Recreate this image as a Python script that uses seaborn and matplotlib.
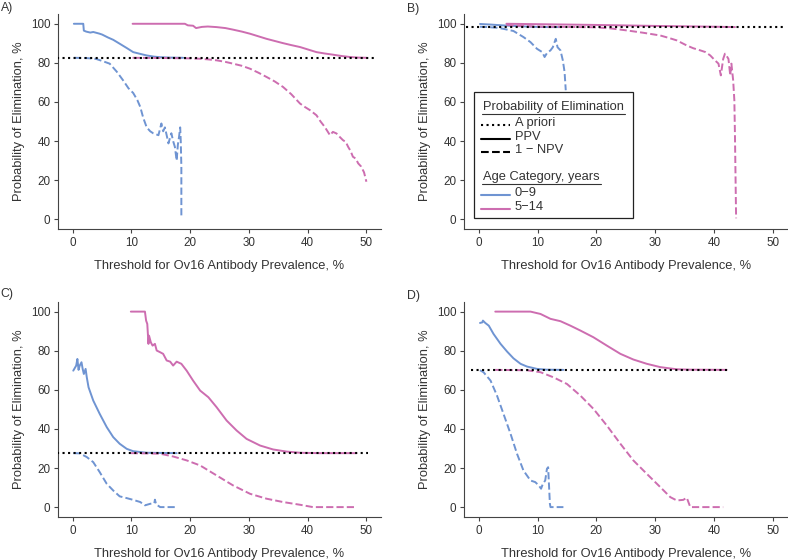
import pandas as pd
import numpy as np
import matplotlib.pyplot as plt
import seaborn as sns

# a priori probability of elimination per panel, and x span of the dotted line
apriori = [82.5, 98.2, 27.5, 70.0]
apriori_span = [(-2.7, 51.7), (-2.2, 52.3), (-2.7, 50.2), (-1.4, 42.2)]

# panel A
a_blue_ppv_x = [0.2, 1.8, 1.9, 2.3, 3.0, 3.5, 4.5, 5.0, 6.0, 6.9, 8.0, 9.2, 10.3, 11.5, 12.6, 13.8, 14.9, 16.5, 18.8]
a_blue_ppv_y = [100, 100, 96.5, 96.0, 95.5, 95.8, 95.0, 94.5, 93.0, 91.8, 89.8, 87.6, 85.5, 84.6, 83.8, 83.2, 82.9, 82.7, 82.6]
a_blue_npv_x = [0.2, 2.0, 3.0, 4.0, 5.0, 6.3, 7.5, 8.6, 9.5, 10.3, 11.0, 11.5, 12.0, 12.6, 13.2, 13.7, 14.6, 15.1, 15.4,
                15.7, 16.0, 16.3, 16.6, 16.8, 17.1, 17.4, 17.7, 17.9, 18.1, 18.3, 18.4, 18.5, 18.5]
a_blue_npv_y = [82.6, 82.5, 82.3, 82.0, 81.0, 79.6, 75.5, 71.0, 67.0, 64.6, 61.0, 57.5, 52.0, 47.0, 45.0, 44.0, 43.0, 49.0, 45.0,
                47.0, 43.0, 38.8, 42.0, 44.0, 40.0, 37.0, 30.0, 38.0, 42.0, 47.0, 40.0, 27.0, 2.0]
a_pink_ppv_x = [10.2, 19.1, 19.6, 20.5, 21.0, 22.0, 23.0, 24.5, 26.0, 27.3, 28.8, 30.2, 31.6, 33.0, 34.4, 35.8, 37.2, 38.7,
                40.1, 41.5, 42.9, 44.3, 45.8, 47.2, 48.6, 50.0]
a_pink_ppv_y = [100, 100, 99.2, 99.0, 97.8, 98.4, 98.6, 98.3, 97.8, 97.0, 96.0, 94.9, 93.6, 92.3, 91.2, 90.1, 89.1, 88.1,
                86.8, 85.5, 84.8, 84.2, 83.5, 83.0, 82.7, 82.6]
a_pink_npv_x = [10.2, 15.0, 20.0, 21.7, 23.0, 24.5, 26.0, 27.3, 28.8, 30.2, 31.6, 33.0, 34.4, 35.8, 37.2, 38.7, 39.5, 40.4,
                41.5, 42.2, 42.9, 43.8, 44.3, 44.9, 45.5, 46.0, 46.5, 46.9, 47.3, 47.7, 48.2, 48.6, 49.1, 49.6, 50.0]
a_pink_npv_y = [82.6, 82.5, 82.3, 82.1, 81.8, 81.3, 80.5, 79.6, 78.5, 77.0, 75.0, 72.8, 70.5, 67.7, 64.0, 59.2, 57.5, 55.8,
                53.2, 50.0, 47.3, 43.0, 44.7, 43.9, 42.0, 40.5, 39.5, 37.0, 35.0, 32.0, 31.0, 28.6, 27.0, 24.0, 19.2]

# panel B
b_blue_ppv_x = [0.2, 2, 4, 6, 8, 10, 12, 14.0]
b_blue_ppv_y = [99.9, 99.6, 99.2, 98.9, 98.6, 98.4, 98.3, 98.3]
b_blue_npv_x = [0.2, 1.5, 3.0, 4.2, 5.9, 7.6, 8.8, 9.9, 10.8, 11.2, 11.6, 12.2, 12.6, 12.9, 13.1, 13.4, 13.9, 14.3, 14.6, 14.8]
b_blue_npv_y = [98.5, 98.3, 98.0, 97.4, 96.3, 93.2, 90.6, 87.2, 85.5, 83.0, 85.0, 86.4, 88.0, 90.6, 92.3, 88.0, 86.4, 81.3, 75.3, 66.0]
b_pink_ppv_x = [4.7, 10, 20, 30, 40, 43.6]
b_pink_ppv_y = [100, 99.8, 99.4, 98.9, 98.5, 98.3]
b_pink_npv_x = [4.7, 6, 10, 15, 20, 22.5, 25.2, 28, 30.9, 32.3, 33.7, 35.4, 36.5, 37.7, 38.6, 39.4, 40.2, 40.8, 41.2, 41.6,
                41.9, 42.2, 42.5, 42.8, 43.0, 43.3, 43.5, 43.6, 43.8]
b_pink_npv_y = [99.5, 99.0, 98.6, 98.4, 98.2, 97.6, 96.6, 95.4, 94.0, 92.8, 91.5, 88.9, 87.5, 86.4, 85.5, 83.8, 81.3, 79.6, 73.6, 82.0,
                84.7, 83.5, 82.0, 73.6, 79.6, 71.0, 60.9, 43.9, 0.5]

# panel C
c_blue_ppv_x = [0.1, 0.6, 0.8, 1.0, 1.2, 1.5, 1.7, 1.9, 2.2, 2.4, 2.7, 3.5, 4.6, 5.8, 6.9, 8.0, 9.2, 10.3, 12.6, 17.7]
c_blue_ppv_y = [69.8, 72.4, 75.8, 70.2, 72.4, 74.1, 70.7, 68.1, 70.7, 66.4, 61.3, 54.5, 47.7, 40.9, 35.8, 32.4, 29.8, 28.6, 27.8, 27.6]
c_blue_npv_x = [0.1, 1.2, 2.4, 3.5, 4.6, 5.8, 6.9, 8.0, 9.2, 10.3, 11.5, 12.3, 13.2, 13.9, 14.0, 14.2, 14.9, 17.7]
c_blue_npv_y = [27.6, 27.5, 25.6, 23.0, 17.9, 11.9, 8.5, 5.5, 4.6, 3.7, 2.6, 0.9, 1.7, 2.0, 3.8, 1.4, 0.0, 0.0]
c_pink_ppv_x = [9.9, 12.3, 12.5, 12.7, 12.9, 13.0, 13.3, 13.6, 14.0, 14.3, 14.9, 15.4, 16.0, 16.6, 17.1, 17.7, 18.5, 19.4,
                20.5, 21.7, 23.1, 24.5, 26.2, 27.9, 29.6, 31.9, 34.1, 36.4, 38.7, 42.0, 48.3]
c_pink_ppv_y = [100, 100, 95.4, 93.7, 83.5, 87.7, 84.3, 82.6, 83.5, 80.1, 79.2, 78.4, 75.0, 74.4, 72.4, 74.4, 73.3, 69.8,
                64.7, 59.6, 56.2, 51.1, 44.3, 39.2, 34.9, 31.5, 29.5, 28.4, 27.8, 27.6, 27.6]
c_pink_npv_x = [9.9, 12.0, 14.9, 17.1, 19.4, 21.7, 24.5, 27.3, 30.2, 33.0, 35.8, 38.7, 40.9, 48.3]
c_pink_npv_y = [27.6, 27.5, 27.3, 25.9, 23.9, 21.3, 16.2, 11.1, 6.8, 4.3, 2.6, 1.2, 0.0, 0.0]

# panel D
d_blue_ppv_x = [0.2, 0.6, 0.7, 1.1, 1.7, 2.5, 3.7, 4.8, 5.9, 7.1, 8.2, 9.9, 11.5, 14.4]
d_blue_ppv_y = [94.2, 94.5, 95.4, 94.2, 92.8, 88.6, 83.5, 79.6, 76.1, 73.3, 71.9, 70.7, 70.3, 70.2]
d_blue_npv_x = [0.2, 0.8, 2.0, 3.1, 4.2, 5.4, 6.5, 7.6, 8.8, 9.6, 10.2, 10.6, 10.9, 11.3, 11.6, 11.8, 12.1, 12.2, 14.4]
d_blue_npv_y = [70, 69, 64.7, 57.0, 47.7, 37.5, 27.3, 18.7, 13.6, 12.8, 11.1, 9.4, 11.9, 13.6, 19.6, 20.4, 1.7, 0.0, 0.0]
d_pink_ppv_x = [2.8, 8.8, 10.5, 12.2, 13.9, 15.6, 17.3, 19.5, 21.8, 24.1, 26.3, 28.6, 30.9, 33.7, 36.0, 42.2]
d_pink_ppv_y = [100, 100, 98.8, 96.3, 95.1, 92.8, 90.3, 86.9, 82.6, 78.4, 75.5, 73.3, 71.6, 70.5, 70.3, 70.2]
d_pink_npv_x = [2.8, 8.2, 10.5, 12.7, 15.0, 17.3, 19.5, 21.8, 24.1, 26.3, 28.6, 30.9, 32.6, 33.7, 34.8, 35.4, 36.0, 41.6]
d_pink_npv_y = [70.2, 70.0, 69.0, 66.4, 63.0, 57.0, 50.3, 41.7, 32.4, 23.9, 17.0, 10.2, 5.1, 3.4, 3.7, 4.8, 0.0, 0.0]

panel_labels = ["A)", "B)", "C)", "D)"]
ages = ["0\u22129", "5\u221214"]
measures = ["A priori", "PPV", "1 \u2212 NPV"]

blue = "#6f94d2"
pink = "#cd6db0"
palette = {ages[0]: blue, ages[1]: pink}
dashes = {measures[1]: "", measures[2]: (3.7, 1.6)}


def panel_frame(series):
    parts = []
    for (age, meas), (xs, ys) in series.items():
        parts.append(pd.DataFrame({"threshold": xs, "prob": ys, "age": age, "measure": meas}))
    return pd.concat(parts, ignore_index=True)


panels = [
    {(ages[0], measures[1]): (a_blue_ppv_x, a_blue_ppv_y), (ages[0], measures[2]): (a_blue_npv_x, a_blue_npv_y),
     (ages[1], measures[1]): (a_pink_ppv_x, a_pink_ppv_y), (ages[1], measures[2]): (a_pink_npv_x, a_pink_npv_y)},
    {(ages[0], measures[1]): (b_blue_ppv_x, b_blue_ppv_y), (ages[0], measures[2]): (b_blue_npv_x, b_blue_npv_y),
     (ages[1], measures[1]): (b_pink_ppv_x, b_pink_ppv_y), (ages[1], measures[2]): (b_pink_npv_x, b_pink_npv_y)},
    {(ages[0], measures[1]): (c_blue_ppv_x, c_blue_ppv_y), (ages[0], measures[2]): (c_blue_npv_x, c_blue_npv_y),
     (ages[1], measures[1]): (c_pink_ppv_x, c_pink_ppv_y), (ages[1], measures[2]): (c_pink_npv_x, c_pink_npv_y)},
    {(ages[0], measures[1]): (d_blue_ppv_x, d_blue_ppv_y), (ages[0], measures[2]): (d_blue_npv_x, d_blue_npv_y),
     (ages[1], measures[1]): (d_pink_ppv_x, d_pink_ppv_y), (ages[1], measures[2]): (d_pink_npv_x, d_pink_npv_y)},
]

sns.set_theme(style="ticks")
plt.rcParams["font.family"] = ["Liberation Sans", "DejaVu Sans"]
plt.rcParams["axes.edgecolor"] = "#444444"
plt.rcParams["xtick.color"] = "#444444"
plt.rcParams["ytick.color"] = "#444444"
plt.rcParams["xtick.labelcolor"] = "#333333"
plt.rcParams["ytick.labelcolor"] = "#333333"

label_fs = 9.3
tick_fs = 8.4

fig = plt.figure(figsize=(7.88, 5.6), dpi=100)
boxes = [(0.0736, 0.591), (0.589, 0.591), (0.0736, 0.077), (0.589, 0.077)]
label_pos = [(0.001, 0.997), (0.516, 0.994), (0.001, 0.485), (0.516, 0.482)]
axes = []
for i, series in enumerate(panels):
    left, bottom = boxes[i]
    ax = fig.add_axes([left, bottom, 0.41, 0.384])
    axes.append(ax)
    df = panel_frame(series)
    ax.plot(apriori_span[i], [apriori[i], apriori[i]], color="black", lw=1.5, ls=":", zorder=3)
    sns.lineplot(data=df, x="threshold", y="prob", hue="age", style="measure", palette=palette,
                 dashes=dashes, estimator=None, sort=False, lw=1.4, legend=False, ax=ax)
    ax.set_xlim(-2.5, 52.5)
    ax.set_ylim(-5, 105)
    ax.set_xticks(range(0, 51, 10))
    ax.set_yticks(range(0, 101, 20))
    ax.tick_params(labelsize=tick_fs, length=3, width=0.8, pad=2.5)
    ax.set_xlabel("Threshold for Ov16 Antibody Prevalence, %", fontsize=label_fs, color="#333333", labelpad=8)
    ax.set_ylabel("Probability of Elimination, %", fontsize=label_fs, color="#333333", labelpad=4)
    for s in ["left", "bottom"]:
        ax.spines[s].set_linewidth(0.8)
    sns.despine(ax=ax)
    fig.text(label_pos[i][0], label_pos[i][1], panel_labels[i], fontsize=8.8, color="#333333", va="top", ha="left")

# legend drawn inside panel B
ax = axes[1]
ax.add_patch(plt.Rectangle((0.031, 0.05), 0.491, 0.587, transform=ax.transAxes, fill=True,
                           facecolor="white", edgecolor="#222222", lw=0.9, zorder=5))
tx = 0.059
hx = (0.053, 0.141)
lx = 0.156
titles = [("Probability of Elimination", 0.567, 0.535), ("Age Category, years", 0.242, 0.209)]
title_texts = []
for t, y, uy in titles:
    title_texts.append((ax.text(tx, y, t, transform=ax.transAxes, fontsize=label_fs, color="#333333",
                                va="center", ha="left", zorder=6), uy))
rows = [(measures[0], 0.493, "black", ":"), (measures[1], 0.428, "black", "-"), (measures[2], 0.367, "black", "--"),
        (ages[0], 0.167, blue, "-"), (ages[1], 0.102, pink, "-")]
for lab, y, col, ls in rows:
    ax.plot(hx, [y - 0.01, y - 0.01], transform=ax.transAxes, color=col, ls=ls, lw=1.5, zorder=6, clip_on=False)
    ax.text(lx, y, lab, transform=ax.transAxes, fontsize=label_fs, color="#333333", va="center", ha="left", zorder=6)

fig.canvas.draw()
inv = ax.transAxes.inverted()
for txt, uy in title_texts:
    bb = txt.get_window_extent()
    x0 = inv.transform((bb.x0, bb.y0))[0]
    x1 = inv.transform((bb.x1, bb.y0))[0]
    ax.plot([x0 - 0.004, x1 + 0.004], [uy, uy], transform=ax.transAxes, color="#333333", lw=0.8, zorder=6)

fig.savefig("out.png", dpi=100)
